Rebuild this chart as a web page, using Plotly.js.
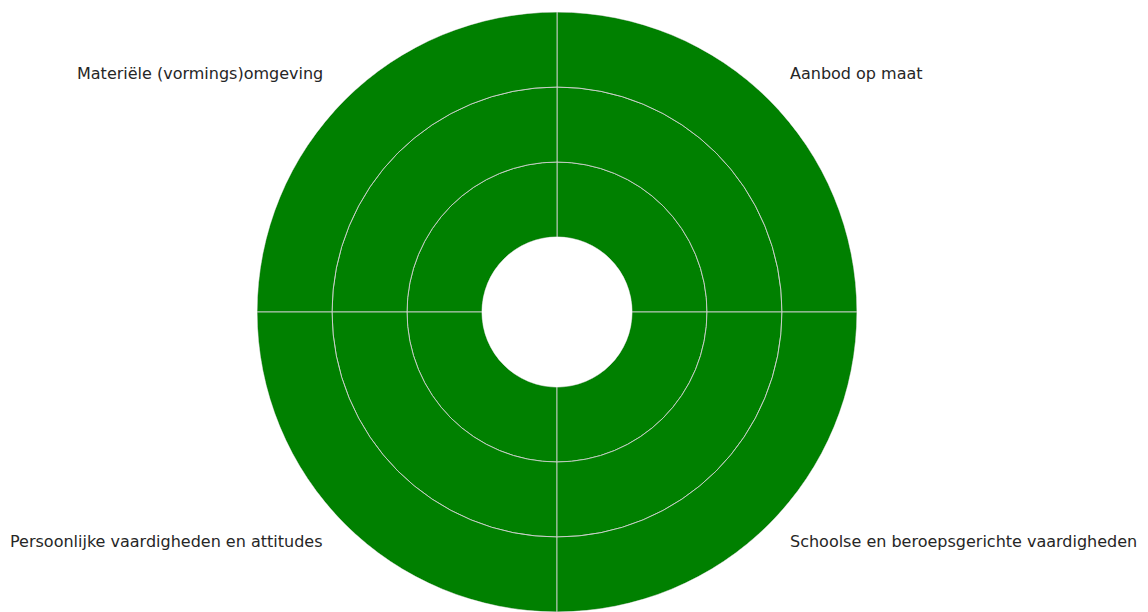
<!DOCTYPE html>
<html>
<head>
<meta charset="utf-8">
<script src="https://cdn.plot.ly/plotly-3.0.1.min.js"></script>
<style>html,body{margin:0;padding:0;background:#fff;}#chart{width:1148px;height:612px;}</style>
</head>
<body>
<div id="chart"></div>
<script>
// Quadrant categories (counter-clockwise from top-right)
const categories = ["Aanbod op maat", "Materiële (vormings)omgeving", "Persoonlijke vaardigheden en attitudes", "Schoolse en beroepsgerichte vaardigheden"];
const quadrantAngles = [45, 135, 225, 315];
// Ring values per quadrant (inner, middle, outer)
const ringInner = [1, 1, 1, 1];
const ringMiddle = [1, 1, 1, 1];
const ringOuter = [1, 1, 1, 1];
const ringColor = "#008000";

const W = 1148, H = 612;
const rings = [ringInner, ringMiddle, ringOuter];
const traces = rings.map(r => ({
  type: "barpolar",
  r: r,
  theta: quadrantAngles,
  width: [90, 90, 90, 90],
  marker: {color: ringColor, line: {color: "rgba(210,210,210,0.85)", width: 1}},
  hoverinfo: "skip",
  showlegend: false
}));

const cx = 557, cy = 312, R = 300;
const labelPos = [
  {x: 788, y: 73, anchor: "left"},
  {x: 325, y: 73, anchor: "right"},
  {x: 324, y: 541, anchor: "right"},
  {x: 788, y: 541, anchor: "left"}
];
const annotations = categories.map((c, i) => ({
  text: c, xref: "paper", yref: "paper",
  x: labelPos[i].x / W, y: 1 - labelPos[i].y / H,
  xanchor: labelPos[i].anchor, yanchor: "middle",
  showarrow: false,
  font: {family: "DejaVu Sans", size: 16, color: "#262626"}
}));

const layout = {
  width: W, height: H,
  margin: {l: 0, r: 0, t: 0, b: 0},
  paper_bgcolor: "#fff",
  showlegend: false,
  polar: {
    domain: {x: [(cx - R) / W, (cx + R) / W], y: [1 - (cy + R) / H, 1 - (cy - R) / H]},
    hole: 0.25,
    bgcolor: "rgba(0,0,0,0)",
    barmode: "stack",
    bargap: 0,
    radialaxis: {range: [0, 3], visible: false, showgrid: false},
    angularaxis: {visible: false, showgrid: false, direction: "counterclockwise", rotation: 0}
  },
  annotations: annotations
};
Plotly.newPlot("chart", traces, layout, {displayModeBar: false, staticPlot: true});
</script>
</body>
</html>
